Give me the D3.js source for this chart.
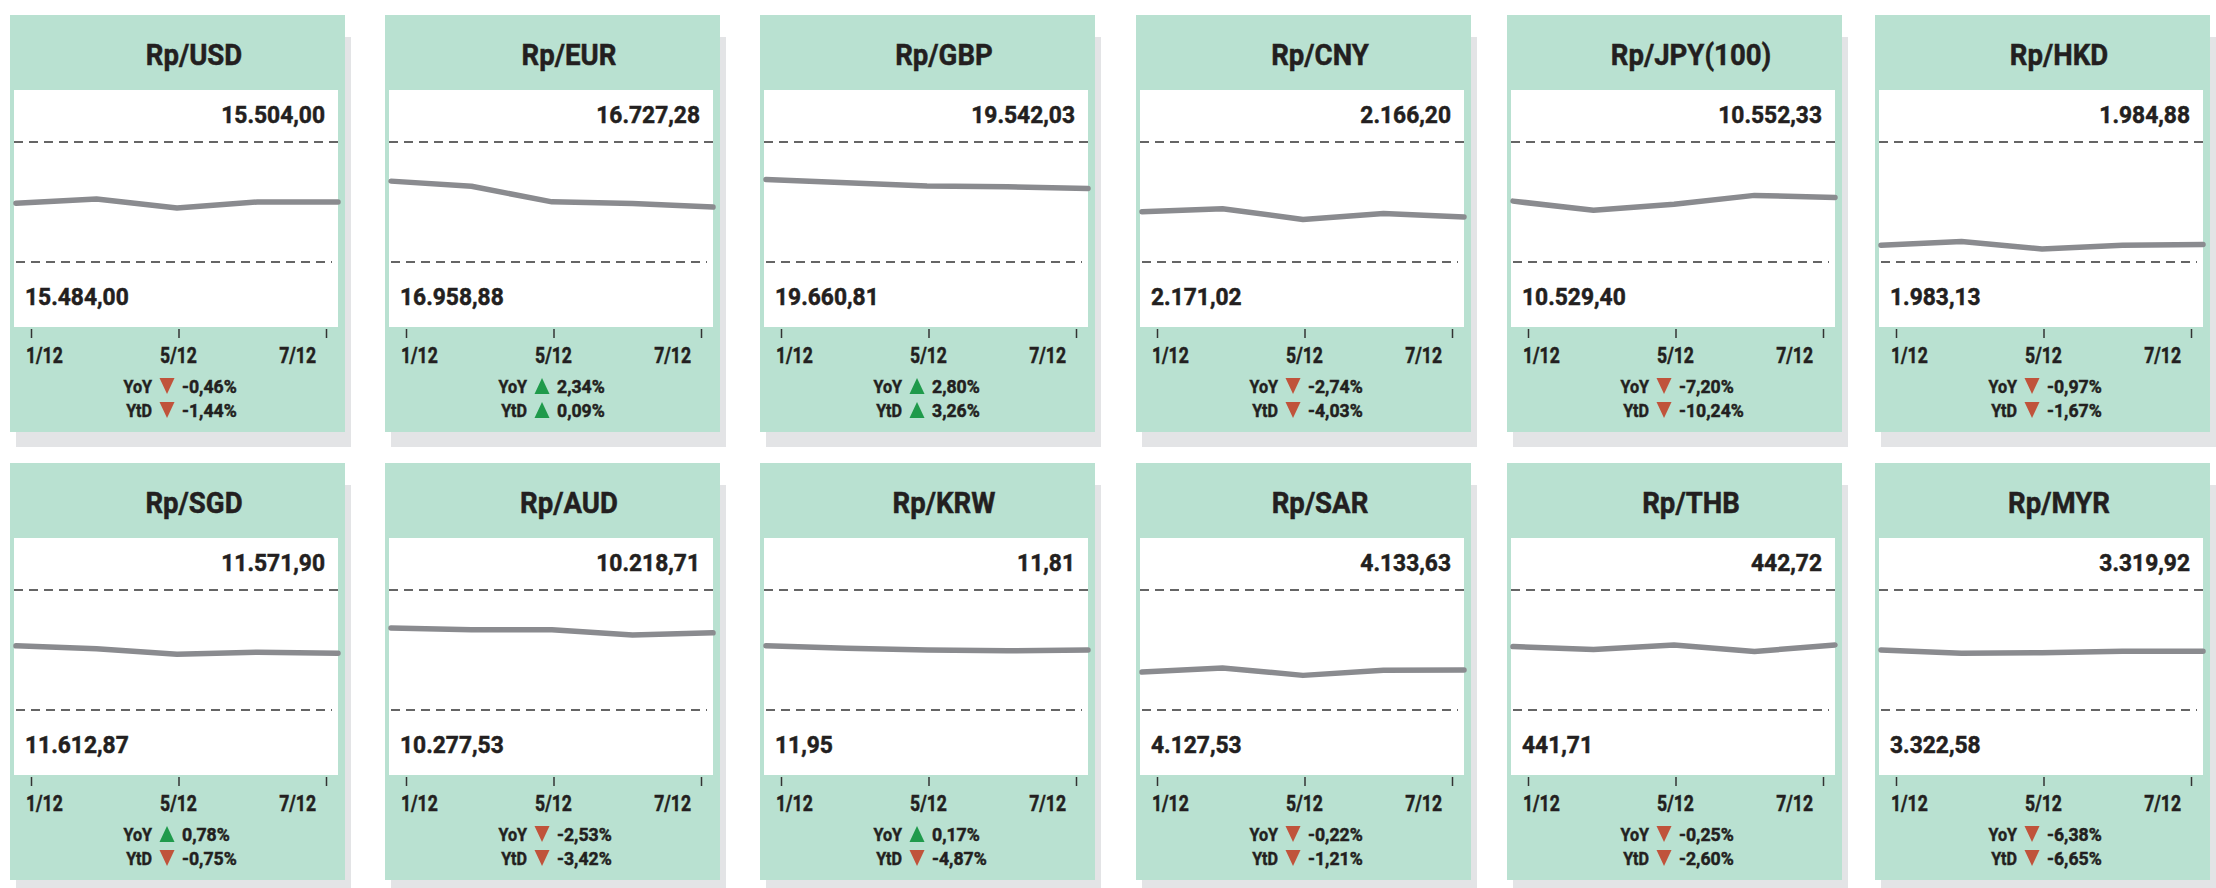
<!DOCTYPE html>
<html>
<head>
<meta charset="utf-8">
<script src="https://cdn.jsdelivr.net/npm/d3@7"></script>
<style>
  html, body { margin: 0; padding: 0; background: #ffffff; }
  svg { display: block; }
  text { font-family: Roboto, "Noto Sans", sans-serif; font-weight: 700; fill: #231f20; stroke: #231f20; stroke-width: 0.5; }
</style>
</head>
<body>
<svg id="chart" width="2216" height="888"></svg>
<script>
// ---------------- DATA ----------------
const pairs = ["Rp/USD", "Rp/EUR", "Rp/GBP", "Rp/CNY", "Rp/JPY(100)", "Rp/HKD",
               "Rp/SGD", "Rp/AUD", "Rp/KRW", "Rp/SAR", "Rp/THB", "Rp/MYR"];
const dates = ["1/12", "4/12", "5/12", "6/12", "7/12"];
const tickLabels = ["1/12", "5/12", "7/12"];
const topValues    = [15504.00, 16727.28, 19542.03, 2166.20, 10552.33, 1984.88,
                      11571.90, 10218.71, 11.81, 4133.63, 442.72, 3319.92];
const bottomValues = [15484.00, 16958.88, 19660.81, 2171.02, 10529.40, 1983.13,
                      11612.87, 10277.53, 11.95, 4127.53, 441.71, 3322.58];
const usd = [15493.8, 15494.5, 15493.0, 15494.0, 15494.0];
const eur = [16802.8, 16812.7, 16842.8, 16846.1, 16852.8];
const gbp = [19579.1, 19582.4, 19585.7, 19586.4, 19588.1];
const cny = [2169.00, 2168.88, 2169.31, 2169.07, 2169.21];
const jpy = [10541.03, 10539.28, 10540.45, 10542.13, 10541.74];
const hkd = [1983.375, 1983.43, 1983.32, 1983.375, 1983.385];
const sgd = [11590.95, 11591.98, 11593.82, 11593.12, 11593.49];
const aud = [10237.36, 10238.18, 10238.18, 10240.71, 10239.71];
const krw = [11.875, 11.878, 11.880, 11.881, 11.880];
const sar = [4129.46, 4129.67, 4129.29, 4129.55, 4129.56];
const thb = [442.244, 442.219, 442.258, 442.202, 442.258];
const myr = [3321.25, 3321.32, 3321.31, 3321.28, 3321.28];
const series = [usd, eur, gbp, cny, jpy, hkd, sgd, aud, krw, sar, thb, myr];
const yoy = [-0.46, 2.34, 2.80, -2.74, -7.20, -0.97, 0.78, -2.53, 0.17, -0.22, -0.25, -6.38];
const ytd = [-1.44, 0.09, 3.26, -4.03, -10.24, -1.67, -0.75, -3.42, -4.87, -1.21, -2.60, -6.65];

// ---------------- LAYOUT ----------------
const colX = [10, 385, 760, 1136, 1507, 1875];
const rowY = [15, 463];
const PW = 335, PH = 417;
const GREEN = "#b9e1d1", SHADOW = "#e3e4e6", LINE = "#8a8b8f";
const RED = "#c0533b", UP = "#1f9a4b";

const id = d3.formatLocale({decimal: ",", thousands: ".", grouping: [3], currency: ["Rp", ""], minus: "-"});
const fmt = id.format(",.2f");
const pct = id.format(".2f");

const svg = d3.select("#chart");

function addText(g, x, y, str, size, anchor, sx) {
  const w = g.append("g").attr("transform", `translate(${x},${y}) scale(${sx},1)`);
  return w.append("text").attr("text-anchor", anchor).attr("font-size", size).text(str);
}

function triangle(g, cx, baseY, up, color) {
  const w = 15, h = 16;
  const top = baseY - 15, bot = top + h;
  const p = d3.path();
  if (up) { p.moveTo(cx, top); p.lineTo(cx + w / 2, bot); p.lineTo(cx - w / 2, bot); }
  else { p.moveTo(cx - w / 2, top); p.lineTo(cx + w / 2, top); p.lineTo(cx, bot); }
  p.closePath();
  g.append("path").attr("d", p.toString()).attr("fill", color);
}

const x = d3.scalePoint().domain(dates).range([6, 328]);
const xt = d3.scalePoint().domain(tickLabels).range([21, 316]);

pairs.forEach((name, i) => {
  const c = i % 6, r = Math.floor(i / 6);
  const g = svg.append("g").attr("transform", `translate(${colX[c]},${rowY[r]})`);

  // shadow & panel
  g.append("rect").attr("x", 6).attr("y", 22).attr("width", PW).attr("height", PH - 22 + 15).attr("fill", SHADOW);
  g.append("rect").attr("x", 0).attr("y", 0).attr("width", PW).attr("height", PH).attr("fill", GREEN);

  // title
  addText(g, 184, 50, name, 30, "middle", 0.92);

  // white plot area
  g.append("rect").attr("x", 4).attr("y", 75).attr("width", 324).attr("height", 237).attr("fill", "#ffffff");

  const y = d3.scaleLinear().domain([bottomValues[i], topValues[i]]).range([247, 127]);

  // dashed reference lines
  g.append("line").attr("x1", 4).attr("x2", 328)
    .attr("y1", y(topValues[i])).attr("y2", y(topValues[i]))
    .attr("stroke", "#333").attr("stroke-width", 1.5).attr("stroke-dasharray", "9,6");
  g.append("line").attr("x1", 6).attr("x2", 322)
    .attr("y1", y(bottomValues[i])).attr("y2", y(bottomValues[i]))
    .attr("stroke", "#333").attr("stroke-width", 1.5).attr("stroke-dasharray", "9,6");

  // labels of extremes
  addText(g, 315, 108, fmt(topValues[i]), 24, "end", 0.95);
  addText(g, 15, 290, fmt(bottomValues[i]), 24, "start", 0.95);

  // line
  const line = d3.line().x((d, k) => x(dates[k])).y(d => y(d));
  g.append("path").datum(series[i]).attr("d", line)
    .attr("fill", "none").attr("stroke", LINE).attr("stroke-width", 5.5)
    .attr("stroke-linecap", "round").attr("stroke-linejoin", "round");

  // axis ticks
  const axis = d3.axisBottom(xt).tickSize(9).tickFormat("");
  const ag = g.append("g").attr("transform", "translate(0,314)").call(axis);
  ag.select(".domain").remove();
  ag.selectAll(".tick line").attr("stroke", "#333").attr("stroke-width", 1.5);

  tickLabels.forEach((t, k) => {
    const anchor = k === 0 ? "start" : (k === tickLabels.length - 1 ? "end" : "middle");
    const dx = k === 0 ? -5 : (k === tickLabels.length - 1 ? -10 : 0);
    addText(g, xt(t) + dx, 348, t, 22, anchor, 0.8);
  });

  // YoY / YtD
  const triX = 157;
  [["YoY", yoy[i], 378], ["YtD", ytd[i], 402]].forEach(([lab, v, by]) => {
    addText(g, triX - 15, by, lab, 19, "end", 0.85);
    triangle(g, triX, by, v >= 0, v >= 0 ? UP : RED);
    addText(g, triX + 15, by, pct(v) + "%", 19, "start", 0.93);
  });
});
</script>
</body>
</html>
